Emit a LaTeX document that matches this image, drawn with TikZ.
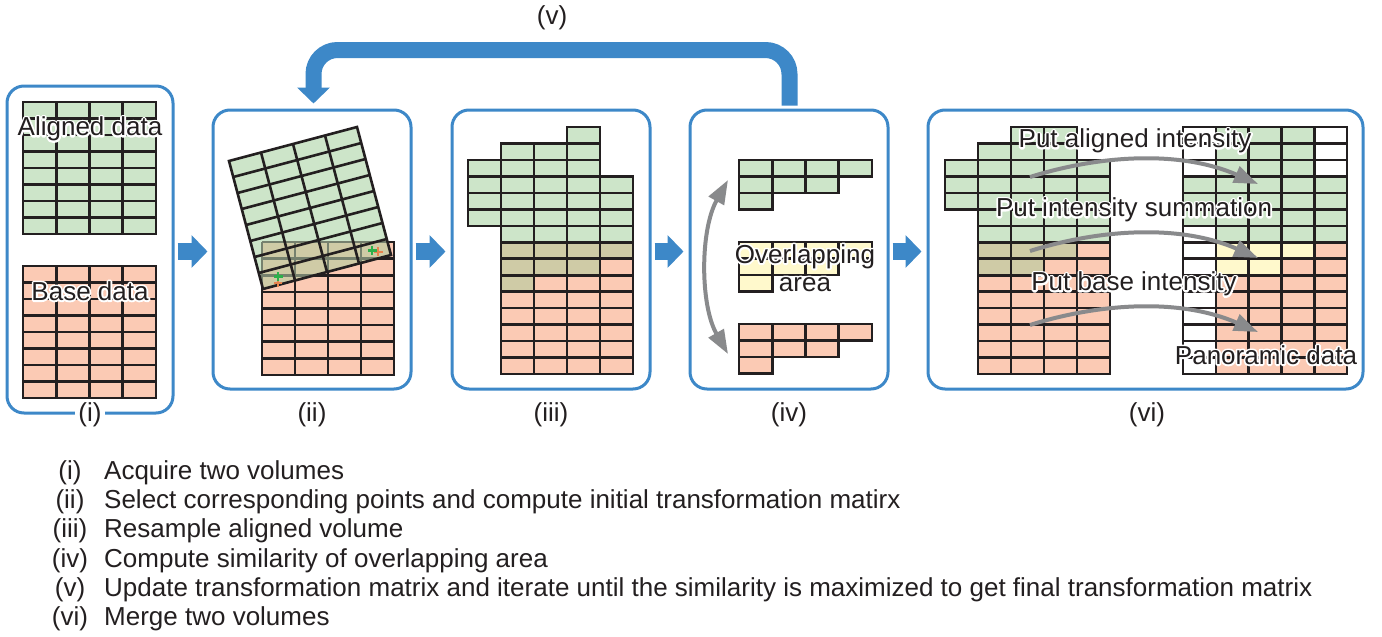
\documentclass[tikz,border=0pt]{standalone}
\usepackage{fontspec}
\setmainfont{Liberation Sans}
\usetikzlibrary{arrows.meta,calc}

\definecolor{gfill}{HTML}{CDE5C9}
\definecolor{pfill}{HTML}{FBCAB4}
\definecolor{ofill}{HTML}{CFCBA6}
\definecolor{yfill}{HTML}{FFF9CC}
\definecolor{bblue}{HTML}{3D88C8}
\definecolor{agray}{HTML}{898A8C}
\definecolor{gline}{HTML}{231F20}
\definecolor{seeline}{HTML}{76816E}
\definecolor{mkgreen}{HTML}{2DB04B}
\definecolor{mkorange}{HTML}{E8834E}

% blocks of voxels: x0, y0, cell width, cell height, style, list of rowA/rowB/colA/colB
\newcommand\cellblock[6]{%
  \foreach \ra/\rb/\ca/\cb in {#6}{%
    \foreach \rr in {\ra,...,\rb}{%
      \foreach \cc in {\ca,...,\cb}{%
        \path[#5] ({#1+\cc*#3},{#2+\rr*#4}) rectangle ++(#3,#4);
      }}}}
% white outline round a label: a stroked pass under the normal filled text
\newcommand\halotext[1]{\leavevmode\rlap{\special{pdf:literal direct 1 Tr 3.6 w 1 j 1 1 1 RG}#1\special{pdf:literal direct 0 Tr}}#1}

\begin{document}
\begin{tikzpicture}[x=1pt,y=-1pt,
  every node/.style={font=\fontsize{26}{28}\selectfont, inner sep=0pt, text=gline},
  panel/.style={draw=bblue, line width=3pt, rounded corners=17pt, inner sep=0pt},
  cell/.style={draw=gline, line width=2.6pt, line join=miter},
  gc/.style={cell, fill=gfill},
  pc/.style={cell, fill=pfill},
  oc/.style={cell, fill=ofill},
  yc/.style={cell, fill=yfill},
  wc/.style={cell, fill=white},
  flow/.style={draw=bblue, line width=17pt, -{Triangle[length=16pt,width=32pt]}},
  loopback/.style={draw=bblue, line width=16pt, rounded corners=24pt, -{Triangle[length=16pt,width=32pt]}},
  curved/.style={draw=agray, line width=4pt, -{Triangle[length=24pt,width=17pt]}},
  both/.style={draw=agray, line width=4pt, {Triangle[length=24pt,width=17pt]}-{Triangle[length=24pt,width=17pt]}},
  steplabel/.style={fill=white, inner xsep=3pt, inner ysep=1pt},
]
\useasboundingbox[fill=white] (0,0) rectangle (1382,637);

% ---------- panels ----------
\node[panel, minimum width=166pt, minimum height=327pt] (p1) at (90,249.5) {};
\node[panel, minimum width=198pt, minimum height=279pt] (p2) at (312,249.5) {};
\node[panel, minimum width=198pt, minimum height=279pt] (p3) at (551,249.5) {};
\node[panel, minimum width=198pt, minimum height=279pt] (p4) at (789,249.5) {};
\node[panel, minimum width=435pt, minimum height=279pt] (p6) at (1145.5,249.5) {};

% ---------- (i) two volumes ----------
\cellblock{23}{102}{33.25}{16.5}{gc}{0/7/0/3}
\cellblock{23}{266}{33.25}{16.5}{pc}{0/7/0/3}
\node (t1) at (90,129) {\halotext{Aligned data}};
\node (t2) at (90,291) {\halotext{Base data}};

% ---------- (ii) initial transformation ----------
\cellblock{262}{242}{33}{16.6}{pc}{0/7/0/3}
\foreach \c in {0,...,4}{\foreach \r in {0,...,8}{%
  \coordinate (g\c-\r) at ({229+32*\c+4.25*\r},{161-8.5*\c+16*\r});}}
\fill[gfill] (g0-0) -- (g4-0) -- (g4-8) -- (g0-8) -- cycle;
\begin{scope}
  \clip (g0-0) -- (g4-0) -- (g4-8) -- (g0-8) -- cycle;
  \fill[ofill] (262,242) rectangle (394,375);
  \foreach \c in {0,...,4}{\draw[seeline, line width=2.6pt] ({262+33*\c},242) -- ({262+33*\c},375);}
  \foreach \r in {0,...,8}{\draw[seeline, line width=2.6pt] (262,{242+16.6*\r}) -- (394,{242+16.6*\r});}
\end{scope}
\foreach \c in {1,...,3}{\draw[gline, line width=2.6pt] (g\c-0) -- (g\c-8);}
\foreach \r in {1,...,7}{\draw[gline, line width=2.6pt] (g0-\r) -- (g4-\r);}
\draw[gline, line width=2.6pt, line join=miter] (g0-0) -- (g4-0) -- (g4-8) -- (g0-8) -- cycle;
% corresponding points
\draw[mkorange, line width=2pt] (278,279) -- (278,287) (274,283) -- (282,283);
\draw[mkgreen, line width=2.2pt] (278,272) -- (278,281) (273.5,276.5) -- (282.5,276.5);
\draw[mkorange, line width=2pt] (378,247) -- (378,256) (373.5,251.5) -- (382.5,251.5);
\draw[mkgreen, line width=2.2pt] (372,246) -- (372,255) (367.5,250.5) -- (376.5,250.5);

% ---------- (iii) resampled volume ----------
\cellblock{468}{127}{33}{16.47}{gc}{0/0/3/3, 1/1/1/3, 2/2/0/3, 3/5/0/4, 6/6/1/4}
\cellblock{468}{127}{33}{16.47}{pc}{8/8/4/4, 9/9/2/4, 10/14/1/4}
\cellblock{468}{127}{33}{16.47}{oc}{7/7/1/4, 8/8/1/3, 9/9/1/1}

% ---------- (iv) overlapping area ----------
\cellblock{739}{160}{33.25}{16.5}{gc}{0/0/0/3, 1/1/0/2, 2/2/0/0}
\cellblock{739}{242}{33.25}{16.5}{yc}{0/0/0/3, 1/1/0/2, 2/2/0/0}
\cellblock{739}{324}{33.25}{16.5}{pc}{0/0/0/3, 1/1/0/2, 2/2/0/0}
\coordinate (s1) at (728,180);
\coordinate (s2) at (728,354);
\draw[both] (s1) .. controls (700,230) and (700,305) .. (s2);
\node[align=center] (t3) at (805,268) {\halotext{Overlapping}\\\halotext{area}};

% ---------- (vi) merged volume ----------
\cellblock{945}{127}{33}{16.47}{gc}{0/0/2/3, 1/1/1/3, 2/4/0/4, 5/6/1/4}
\cellblock{945}{127}{33}{16.47}{pc}{7/7/4/4, 8/8/3/4, 9/14/1/4}
\cellblock{945}{127}{33}{16.47}{oc}{7/7/1/3, 8/8/1/2}
\cellblock{1183}{127}{32.8}{16.47}{wc}{0/2/0/0, 0/2/4/4, 6/14/0/0}
\cellblock{1183}{127}{32.8}{16.47}{gc}{0/2/1/3, 3/5/0/4, 6/6/1/4}
\cellblock{1183}{127}{32.8}{16.47}{pc}{7/7/4/4, 8/8/3/4, 9/14/1/4}
\cellblock{1183}{127}{32.8}{16.47}{yc}{7/7/1/3, 8/8/1/2}
\coordinate (a1) at (1030,177); \coordinate (b1) at (1258,184);
\coordinate (a2) at (1030,251); \coordinate (b2) at (1258,258);
\coordinate (a3) at (1030,325); \coordinate (b3) at (1258,332);
\draw[curved] (a1) .. controls (1100,155) and (1180,150) .. (b1);
\draw[curved] (a2) .. controls (1100,229) and (1180,224) .. (b2);
\draw[curved] (a3) .. controls (1100,303) and (1180,298) .. (b3);
\node (t4) at (1135,141) {\halotext{Put aligned intensity}};
\node (t5) at (1134,210) {\halotext{Put intensity summation}};
\node (t6) at (1134,284) {\halotext{Put base intensity}};
\node (t7) at (1266,355) {\halotext{Panoramic data}};

% ---------- flow between steps ----------
\draw[flow, shorten <=3pt, shorten >=4pt] ([yshift=-2pt]p1.east) -- ([yshift=-2pt]p2.west);
\draw[flow, shorten <=3pt, shorten >=5pt] ([yshift=-2pt]p2.east) -- ([yshift=-2pt]p3.west);
\draw[flow, shorten <=3pt, shorten >=5pt] ([yshift=-2pt]p3.east) -- ([yshift=-2pt]p4.west);
\draw[flow, shorten <=3pt, shorten >=5pt] ([yshift=-2pt]p4.east) -- ([yshift=-2pt]p6.west);
\coordinate (vtop) at (550,50);
\draw[loopback] ([yshift=3pt,xshift=0.5pt]p4.north) -- ([xshift=0.5pt]p4.north |- vtop) -- ([xshift=1.5pt]p2.north |- vtop) -- ([yshift=5pt,xshift=1.5pt]p2.north);

% ---------- step labels ----------
\node[steplabel] (l1) at (90,415) {(i)};
\node (l2) at (312,415) {(ii)};
\node (l3) at (551,415) {(iii)};
\node (l4) at (789,415) {(iv)};
\node (l5) at (552,18) {(v)};
\node (l6) at (1147,415) {(vi)};

% ---------- legend ----------
\foreach \lab/\txt/\yy in {
  (i)/Acquire two volumes/479,
  (ii)/Select corresponding points and compute initial transformation matirx/508,
  (iii)/Resample aligned volume/537,
  (iv)/Compute similarity of overlapping area/567,
  (v)/Update transformation matrix and iterate until the similarity is maximized to get final transformation matrix/596,
  (vi)/Merge two volumes/625}{%
  \node[anchor=base] at (70,\yy) {\lab};
  \node[anchor=base west] at (104,\yy) {\txt};
}
\end{tikzpicture}
\end{document}
